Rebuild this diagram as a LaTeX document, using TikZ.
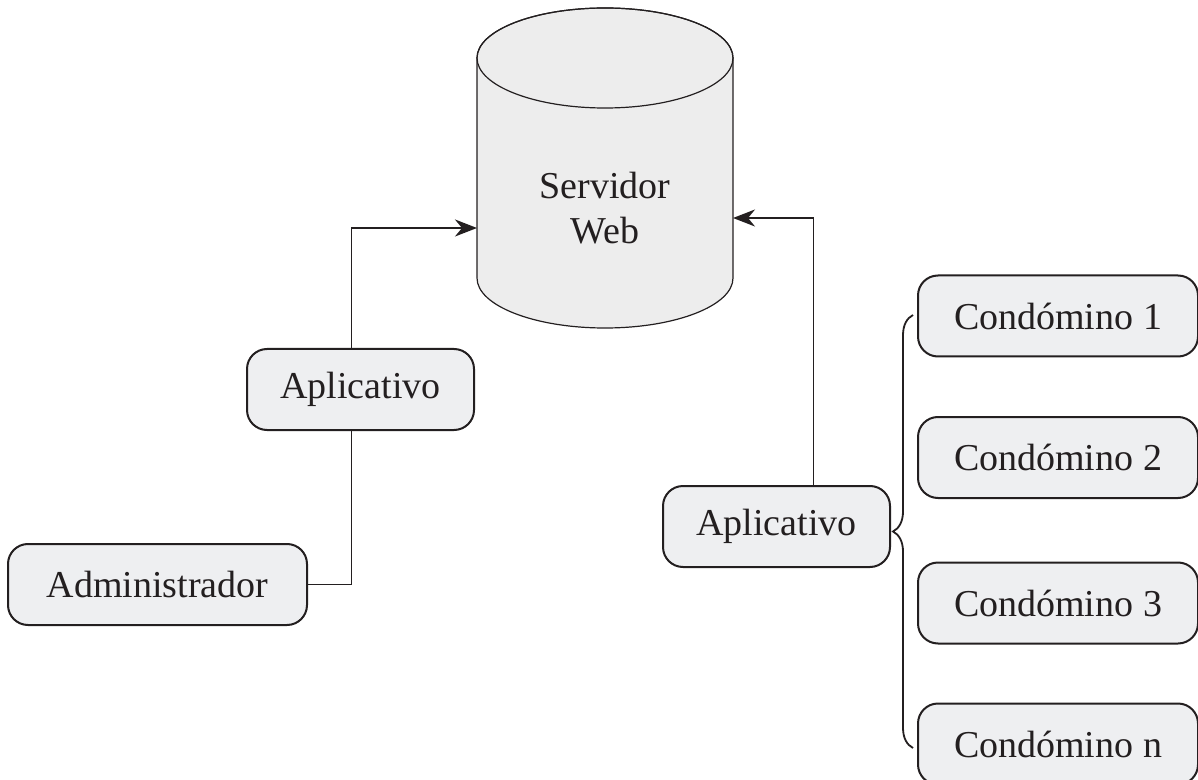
\documentclass[tikz,border=0pt]{standalone}
\usepackage{fontspec}
\setmainfont{Liberation Serif}
\usetikzlibrary{arrows.meta,decorations.pathreplacing}

\definecolor{tinta}{HTML}{231F20}
\definecolor{cinza}{HTML}{EEEFF1}
\definecolor{cinzacil}{HTML}{EDEDED}

\tikzset{
	caixa/.style={draw=tinta, line width=1pt, fill=cinza, rounded corners=10pt,
	minimum height=40.5pt, inner sep=0pt, text=tinta,
	font=\fontsize{19}{22.5}\selectfont},
	seta/.style={draw=tinta, line width=0.9pt,
	-{Stealth[length=11pt, width=8.5pt, inset=3.5pt]}},
	linha/.style={draw=tinta, line width=0.9pt}
}

\begin{document}
\begin{tikzpicture}[x=0.5pt, y=0.5pt]
	\useasboundingbox (0,0) rectangle (1198,-780);
	% Servidor
	\filldraw[draw=tinta, line width=0.6pt, fill=cinzacil] (477,-58) -- (477,-278)
	arc[start angle=180, end angle=360, x radius=64pt, y radius=25pt] -- (733,-58)
	arc[start angle=0, end angle=180, x radius=64pt, y radius=25pt] -- cycle;
	\draw[draw=tinta, line width=0.6pt] (605,-58) ellipse[x radius=64pt, y radius=25pt];
	\node[align=center, text=tinta, font=\fontsize{19}{22.5}\selectfont] (srv)
	at (605,-208) {Servidor\\Web};
	\coordinate (inL) at (477,-228);
	\coordinate (inR) at (733,-218);
	% Administrador
	\node[caixa, minimum width=149.5pt] (adm) at (157.5,-584.5) {Administrador};
	\node[caixa, minimum width=113.5pt] (appL) at (360.5,-389.5) {Aplicativo};
	\draw[linha] (adm.east) -| ([xshift=-4.5pt]appL.south);
	\draw[seta] ([xshift=-4.5pt]appL.north) |- (inL);
	% Condominos
	\node[caixa, minimum width=113.5pt] (appR) at (776.5,-526.5) {Aplicativo};
	\draw[seta] ([xshift=18.5pt]appR.north) |- (inR);
	\foreach \n/\y in {1/316, 2/457.5, 3/603, n/744}
		\node[caixa, minimum width=140pt] (cond\n) at (1058,-\y) {Condómino \n};
	\draw[linha, decorate, decoration={brace, amplitude=10pt}]
	(913,-748) -- (913,-315);
\end{tikzpicture}
\end{document}
